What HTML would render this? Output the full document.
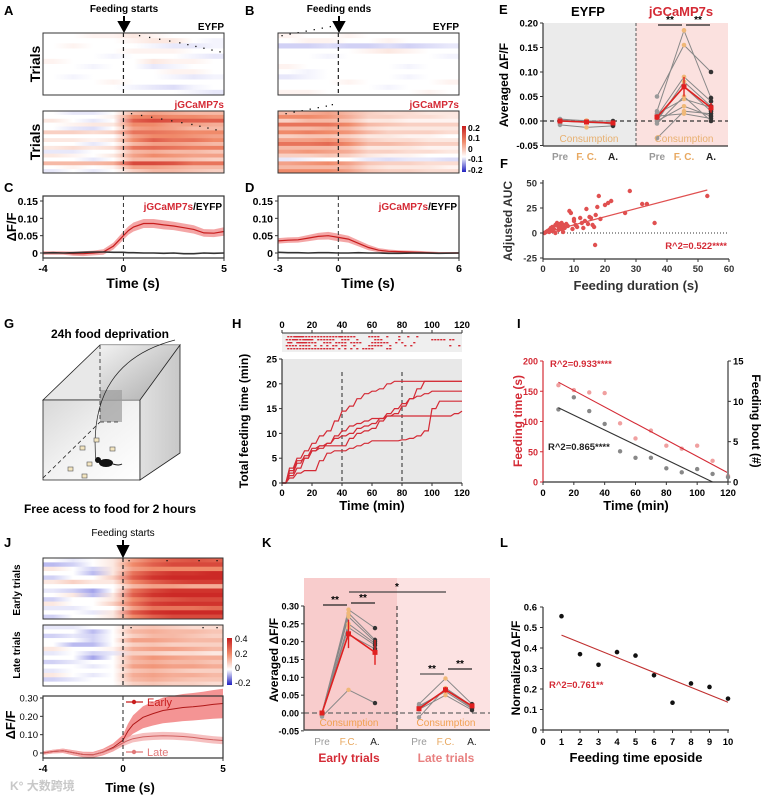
<!DOCTYPE html>
<html><head><meta charset="utf-8">
<style>
html,body{margin:0;padding:0;background:#fff;}
svg{display:block;font-family:"Liberation Sans","Noto Sans CJK SC",sans-serif;}
.b{font-weight:bold;}
</style></head>
<body>
<svg id="fig" width="762" height="796" viewBox="0 0 762 796" xmlns="http://www.w3.org/2000/svg">
<defs>
<linearGradient id="cbAB" x1="0" y1="1" x2="0" y2="0"><stop offset="0" stop-color="#2020c0"/><stop offset="0.33" stop-color="#ffffff"/><stop offset="0.66" stop-color="#f08a6a"/><stop offset="1" stop-color="#c81e1e"/></linearGradient>
<linearGradient id="cbJ" x1="0" y1="1" x2="0" y2="0"><stop offset="0" stop-color="#2020c0"/><stop offset="0.33" stop-color="#ffffff"/><stop offset="0.66" stop-color="#f08a6a"/><stop offset="1" stop-color="#c81e1e"/></linearGradient>
<linearGradient id="boxIn" x1="0" y1="0" x2="1" y2="1"><stop offset="0" stop-color="#f4f4f4"/><stop offset="0.6" stop-color="#bdbdbd"/><stop offset="1" stop-color="#9a9a9a"/></linearGradient>
<linearGradient id="boxSide" x1="0" y1="0" x2="1" y2="0"><stop offset="0" stop-color="#e0e0e0"/><stop offset="1" stop-color="#c8c8c8"/></linearGradient>
<linearGradient id="boxFront" x1="0" y1="0" x2="1" y2="1"><stop offset="0" stop-color="#d8d8d8"/><stop offset="0.5" stop-color="#f2f2f2"/><stop offset="1" stop-color="#ffffff"/></linearGradient>
</defs>
<g class="b" font-size="13">
<text x="4" y="15">A</text>
<text x="245" y="15">B</text>
<text x="499" y="14">E</text>
<text x="4" y="192">C</text>
<text x="245" y="192">D</text>
<text x="500" y="168">F</text>
<text x="4" y="328">G</text>
<text x="232" y="328">H</text>
<text x="517" y="328">I</text>
<text x="4" y="547">J</text>
<text x="262" y="547">K</text>
<text x="500" y="547">L</text>
</g>
<g class="b" font-size="10">
<text x="124" y="12" text-anchor="middle">Feeding starts</text>
<text x="339" y="12" text-anchor="middle">Feeding ends</text>
<text x="224" y="30" text-anchor="end">EYFP</text>
<text x="224" y="108" text-anchor="end" fill="#d42a35">jGCaMP7s</text>
<text x="459" y="30" text-anchor="end">EYFP</text>
<text x="459" y="108" text-anchor="end" fill="#d42a35">jGCaMP7s</text>
<text x="123" y="536" text-anchor="middle" font-weight="normal">Feeding starts</text>
</g>
<g class="b" font-size="14">
<text transform="translate(40,64) rotate(-90)" text-anchor="middle">Trials</text>
<text transform="translate(40,142) rotate(-90)" text-anchor="middle">Trials</text>
</g>
<path d="M124,16 V24 M119,22 L124,31 L129,22 Z" stroke="#000" stroke-width="2" fill="#000"/>
<path d="M339,16 V24 M334,22 L339,31 L344,22 Z" stroke="#000" stroke-width="2" fill="#000"/>
<path d="M123,540 V548 M118,546 L123,556 L128,546 Z" stroke="#000" stroke-width="2" fill="#000"/>
<g id="heatA1"></g>
<g id="heatA2"></g>
<g id="heatB1"></g>
<g id="heatB2"></g>
<rect x="462" y="126" width="4" height="46" fill="url(#cbAB)"/>
<g class="b" font-size="8.5">
<text x="468" y="131">0.2</text><text x="468" y="141">0.1</text><text x="468" y="152">0</text><text x="468" y="162">-0.1</text><text x="468" y="173">-0.2</text>
</g>
<g id="plotC"></g>
<g id="plotD"></g>
<text x="16" y="227" transform="rotate(-90 16 227)" text-anchor="middle" class="b" font-size="13">ΔF/F</text>
<text x="133" y="288" text-anchor="middle" class="b" font-size="14">Time (s)</text>
<text x="368" y="288" text-anchor="middle" class="b" font-size="14">Time (s)</text>
<g class="b" font-size="10">
<text x="222" y="210" text-anchor="end"><tspan fill="#d42a35">jGCaMP7s</tspan>/EYFP</text>
<text x="457" y="210" text-anchor="end"><tspan fill="#d42a35">jGCaMP7s</tspan>/EYFP</text>
</g>
<g id="plotE"></g>
<text x="588" y="16" text-anchor="middle" class="b" font-size="13">EYFP</text>
<text x="681" y="16" text-anchor="middle" class="b" font-size="13" fill="#d42a35">jGCaMP7s</text>
<text x="508" y="85" transform="rotate(-90 508 85)" text-anchor="middle" class="b" font-size="12">Averaged ΔF/F</text>
<g id="plotF"></g>
<text x="512" y="221" transform="rotate(-90 512 221)" text-anchor="middle" class="b" font-size="12" fill="#333">Adjusted AUC</text>
<text x="636" y="290" text-anchor="middle" class="b" font-size="13" fill="#333">Feeding duration (s)</text>
<text x="727" y="249" text-anchor="end" class="b" font-size="9.5" fill="#d42a35">R^2=0.522****</text>
<g>
<polygon points="43,400 100,345 180,345 140,400" fill="#e8e8e8" stroke="#222" stroke-width="0.8"/>
<polygon points="43,400 140,400 140,480 43,480" fill="url(#boxFront)" stroke="#222" stroke-width="0.8"/>
<polygon points="100,345 180,345 140,400 100,400" fill="url(#boxIn)" opacity="0.8"/>
<rect x="100" y="390" width="22" height="32" fill="#9c9c9c" opacity="0.7"/>
<polygon points="140,400 180,345 180,453 140,480" fill="url(#boxSide)" stroke="#222" stroke-width="0.8"/>
<path d="M100,345 V422 H120 M43,478 L100,422" stroke="#222" stroke-width="0.8" stroke-dasharray="4,3" fill="none"/>
<path d="M96,462 C92,420 98,360 175,340" stroke="#222" stroke-width="0.7" fill="none"/>
<ellipse cx="106" cy="463" rx="7" ry="4" fill="#111"/><circle cx="98" cy="460" r="3" fill="#111"/><path d="M113,464 q6,2 9,0" stroke="#111" fill="none"/>
<g fill="#f4e6c0" stroke="#555" stroke-width="0.6">
<rect x="94" y="438" width="5" height="4"/><rect x="80" y="446" width="5" height="4"/><rect x="110" y="447" width="5" height="4"/><rect x="87" y="462" width="5" height="4"/><rect x="68" y="467" width="5" height="4"/><rect x="82" y="474" width="5" height="4"/>
</g>
</g>
<text x="110" y="338" text-anchor="middle" class="b" font-size="12">24h food deprivation</text>
<text x="110" y="513" text-anchor="middle" class="b" font-size="12">Free acess to food for 2 hours</text>
<g id="plotH"></g>
<text x="248" y="421" transform="rotate(-90 248 421)" text-anchor="middle" class="b" font-size="12">Total feeding time (min)</text>
<text x="372" y="510" text-anchor="middle" class="b" font-size="13">Time (min)</text>
<g id="plotI"></g>
<text x="522" y="421" transform="rotate(-90 522 421)" text-anchor="middle" class="b" font-size="12" fill="#d42a35">Feeding time (s)</text>
<text x="752" y="421" transform="rotate(90 752 421)" text-anchor="middle" class="b" font-size="12">Feeding bout (#)</text>
<text x="636" y="510" text-anchor="middle" class="b" font-size="13">Time (min)</text>
<text x="550" y="367" class="b" font-size="9.5" fill="#d42a35">R^2=0.933****</text>
<text x="548" y="450" class="b" font-size="9.5" fill="#222">R^2=0.865****</text>
<g id="heatJ1"></g>
<g id="heatJ2"></g>
<rect x="227" y="638" width="5" height="47" fill="url(#cbJ)"/>
<g font-size="9">
<text x="235" y="642">0.4</text><text x="235" y="657">0.2</text><text x="235" y="671">0</text><text x="235" y="686">-0.2</text>
</g>
<text x="20" y="590" transform="rotate(-90 20 590)" text-anchor="middle" class="b" font-size="10">Early trials</text>
<text x="20" y="655" transform="rotate(-90 20 655)" text-anchor="middle" class="b" font-size="10">Late trials</text>
<g id="plotJ"></g>
<text x="15" y="725" transform="rotate(-90 15 725)" text-anchor="middle" class="b" font-size="13">ΔF/F</text>
<text x="130" y="792" text-anchor="middle" class="b" font-size="13">Time (s)</text>
<text x="10" y="790" font-size="12" fill="#c8c8c8" class="b">K° 大数跨境</text>
<g id="plotK"></g>
<text x="278" y="660" transform="rotate(-90 278 660)" text-anchor="middle" class="b" font-size="12">Averaged ΔF/F</text>
<text x="349" y="762" text-anchor="middle" class="b" font-size="12" fill="#d42a35">Early trials</text>
<text x="446" y="762" text-anchor="middle" class="b" font-size="12" fill="#e88080">Late trials</text>
<g id="plotL"></g>
<text x="520" y="668" transform="rotate(-90 520 668)" text-anchor="middle" class="b" font-size="12">Normalized ΔF/F</text>
<text x="636" y="762" text-anchor="middle" class="b" font-size="13">Feeding time eposide</text>
<text x="549" y="688" class="b" font-size="9.5" fill="#d42a35">R^2=0.761**</text>
</svg>
<script>
const heatA_eyfp=[[0,0,0.05,0.05,0.1,0.05,0,0,0],[0,0,0,0,0.05,0.1,0.1,0,-0.05],[0,0.05,0,0,0,-0.05,-0.1,-0.1,-0.05],[0,0,0,0,0.05,0.05,0.05,0,0],[0,0,0,-0.05,0,0,0,-0.05,-0.1],[0.05,0,0,0,0,0.1,0.05,0.05,0],[0,0,-0.05,0,0,-0.1,-0.05,0,0],[0,0,0,0,0,0,0.05,0.05,0],[0,-0.05,0,0,0,0,-0.05,-0.1,-0.05],[0,0,0,0.05,0,0,0,0,0],[0,0,0,0,-0.05,-0.1,-0.15,-0.05,0],[0,0,0,0,0,0,0,-0.05,-0.1]];
const heatA_jg=[[0,-0.1,-0.1,0,0.3,0.4,0.35,0.3,0.3],[0,0,0,0.05,0.5,0.55,0.5,0.5,0.45],[0.1,0,-0.1,0,0.7,0.8,0.75,0.7,0.7],[0,0.05,0.1,0.1,0.5,0.5,0.4,0.4,0.35],[0,-0.1,-0.15,0,0.4,0.45,0.4,0.3,0.3],[0.2,0.2,0.15,0.2,0.6,0.6,0.55,0.5,0.5],[0,0,0,0,0.4,0.5,0.5,0.45,0.4],[0.1,0.1,0.05,0.1,0.5,0.7,0.6,0.6,0.5],[0,0,-0.1,0,0.3,0.4,0.4,0.35,0.3],[0.1,0.15,0.1,0.15,0.6,0.65,0.6,0.55,0.55],[-0.1,-0.1,0,0,0.3,0.35,0.3,0.3,0.25],[0.1,0.05,0,0.1,0.4,0.5,0.45,0.4,0.4],[0,0,-0.1,0,0.3,0.3,0.3,0.25,0.2],[0.3,0.3,0.3,0.35,0.8,0.8,0.75,0.6,0.6],[0,0.05,0,0.05,0.4,0.4,0.35,0.3,0.3],[-0.1,0,-0.1,0,0.2,0.3,0.3,0.25,0.2]];
const heatB_eyfp=[[0.05,0,0,0.05,0,0,0,0,0],[0,0.05,0.05,0,0,0.05,0,0,0],[-0.2,-0.2,-0.15,-0.2,-0.2,-0.15,-0.2,-0.15,-0.1],[0,0,0,0,0.05,0.1,0.05,0,0],[0,0,-0.05,0,0,0,0,0,-0.05],[0,0,0,0,0,0,0,0,0],[0.05,0,0,0,0,0,-0.05,0,0],[0,-0.05,0,0,0,0,0,0,0],[-0.1,-0.05,0,0,0,0,-0.05,0,0],[0,0,0,0.05,0,0,0,0,0.05],[0,0,0,0,0,-0.05,0,0,0],[0.05,0.05,0,0,0,0,0,0.05,0]];
const heatB_jg=[[0.3,0.35,0.4,0.3,0.2,0.15,0.15,0.1,0.1],[0.5,0.5,0.45,0.35,0.2,0.2,0.15,0.15,0.1],[0.2,0.3,0.3,0.25,0.1,0.1,0.05,0.05,0.05],[0.6,0.6,0.6,0.5,0.3,0.25,0.2,0.2,0.2],[0.3,0.3,0.35,0.3,0.15,0.1,0.1,0.1,0.1],[0.5,0.55,0.5,0.45,0.3,0.2,0.2,0.2,0.15],[0.2,0.25,0.25,0.2,0.1,0.1,0.05,0.05,0],[0.4,0.4,0.45,0.35,0.2,0.15,0.15,0.1,0.1],[0.6,0.6,0.65,0.5,0.3,0.3,0.25,0.2,0.2],[0.3,0.3,0.3,0.25,0.1,0.1,0.1,0.05,0.05],[0.4,0.45,0.4,0.35,0.2,0.2,0.15,0.15,0.1],[0.2,0.2,0.25,0.2,0.1,0.05,0.05,0,0],[-0.1,-0.05,0,0,-0.1,-0.15,-0.1,-0.1,-0.15],[0.4,0.45,0.5,0.4,0.25,0.2,0.2,0.15,0.15],[0.3,0.3,0.3,0.3,0.15,0.1,0.1,0.1,0.05],[0.5,0.5,0.5,0.4,0.25,0.2,0.2,0.15,0.15]];
const heatJ_early=[[0,-0.1,0,0.1,0.4,0.6,0.7,0.75,0.7],[-0.3,-0.2,0,0.1,0.5,0.7,0.8,0.8,0.8],[0.1,0,-0.2,0.1,0.4,0.5,0.5,0.5,0.5],[0,0,-0.3,0.1,0.6,0.8,0.9,0.9,0.95],[-0.2,0,0,0.2,0.7,0.9,0.95,0.95,0.95],[0.1,0.2,0.1,0.1,0.5,0.7,0.8,0.85,0.85],[0,0,0,0,0.3,0.4,0.4,0.35,0.35],[-0.1,-0.2,-0.4,0,0.6,0.8,0.9,0.9,0.9],[0,0.1,-0.3,0.1,0.7,0.9,0.95,0.95,0.95],[-0.2,0,0,0.1,0.5,0.7,0.75,0.8,0.8],[0.1,0,0,0.2,0.6,0.85,0.9,0.9,0.9],[-0.1,-0.1,0,0,0.4,0.6,0.6,0.6,0.65],[0,0,-0.1,0.1,0.7,0.9,0.95,0.95,0.95],[-0.2,0,0,0.1,0.5,0.7,0.8,0.8,0.8]];
const heatJ_late=[[-0.1,-0.1,0,0,0.2,0.25,0.2,0.15,0.15],[0,0,-0.3,0,0.3,0.35,0.3,0.3,0.25],[-0.2,-0.1,-0.2,0,0.2,0.3,0.3,0.25,0.2],[0,0,-0.2,0,0.4,0.4,0.35,0.3,0.3],[0,-0.3,-0.3,0,0.2,0.25,0.2,0.2,0.2],[0.1,0,0,0.05,0.35,0.4,0.4,0.35,0.3],[-0.1,0,-0.2,-0.1,0.2,0.2,0.15,0.15,0.1],[0,0,-0.4,0,0.35,0.45,0.4,0.35,0.35],[-0.2,-0.1,0,0,0.3,0.35,0.3,0.3,0.25],[0,0,-0.1,0,0.4,0.45,0.4,0.4,0.35],[-0.1,0,0,0,0.25,0.3,0.25,0.2,0.2],[0.1,0,-0.1,0,0.35,0.4,0.35,0.35,0.3],[-0.2,-0.1,0,0,0.3,0.35,0.3,0.25,0.25],[0,0,0,0,0.2,0.25,0.2,0.2,0.15]];
const endDotsA1=[0.8,1.3,1.8,2.3,2.8,3.2,3.6,4.0,4.4,4.8];
const endDotsA2=[0.4,0.9,1.4,1.9,2.4,2.9,3.4,3.8,4.2,4.6];
const endDotsB1=[-2.8,-2.4,-2.0,-1.6,-1.2,-0.8,-0.4];
const endDotsB2=[-2.6,-2.2,-1.8,-1.4,-1.0,-0.6,-0.3];
const dotsJ1=[0.3,2.2,3.8,4.7];
const dotsJ2=[0.4,4.0,4.7];
const tC=[-4,-3.5,-3,-2.5,-2,-1.5,-1,-0.5,0,0.25,0.5,1,1.5,2,2.5,3,3.5,4,4.5,5];
const meanC=[0,0,0,-0.002,-0.002,0,0.003,0.02,0.05,0.065,0.075,0.085,0.085,0.081,0.078,0.073,0.068,0.058,0.057,0.062];
const semC=[0.005,0.005,0.005,0.006,0.007,0.007,0.008,0.01,0.012,0.012,0.013,0.013,0.013,0.013,0.012,0.012,0.012,0.011,0.011,0.012];
const eyfpC=[0,0.001,0,0.001,0.002,0.003,0.003,0.002,0.002,0.001,0.001,0,0,-0.001,0,-0.002,-0.002,0,-0.001,0];
const tD=[-3,-2.5,-2,-1.5,-1,-0.5,0,0.5,1,1.5,2,2.5,3,4,5,6];
const meanD=[0.035,0.037,0.038,0.043,0.048,0.05,0.045,0.04,0.028,0.016,0.008,0.005,0.004,0.002,0,0];
const semD=[0.008,0.008,0.008,0.009,0.01,0.011,0.011,0.01,0.009,0.008,0.006,0.005,0.004,0.004,0.003,0.003];
const eyfpD=[0.002,0.001,0.001,0,0.001,0.001,0,0,0.001,0,0,-0.001,-0.001,0,-0.001,0];
const catsE=['Pre','F. C.','A.'];
const eEyfpLines=[[-0.008,-0.013,-0.01],[0.004,0,0],[0,-0.003,-0.005],[0.002,0.001,-0.007]];
const eEyfpMean=[0,-0.002,-0.004];
const eJgLines=[[0.05,0.155,0.1],[0.02,0.185,0.047],[0.01,0.09,0.04],[0,0.08,0.03],[0.005,0.07,0.02],[0.015,0.045,0.028],[-0.035,0.02,0.015],[0,0.03,0.01],[0.01,0.015,0.005],[-0.005,0.05,0]];
const eJgMean=[0.008,0.07,0.027];
const eJgErr=[0.006,0.02,0.01];
const fX=[0.5,1,1.5,2,2,2.5,3,3,3.5,4,4,4.5,5,5,5.5,5.5,6,6,6.5,6.5,7,7.5,8,8.5,9,9.5,10,10,10.5,11,12,12.5,13,13.5,14,14.5,15,15.5,16,16.5,16.8,17,17.5,18,18.5,20,21,22,26.5,28,32,33.5,36,53];
const fY=[0,1,2,3,1,5,2,6,4,8,0,10,6,3,9,7,4,10,8,1,5,9,7,22,20,4,12,14,8,6,15,10,5,12,24,9,16,15,8,6,-12,18,26,37,14,28,30,32,20,42,29,29,10,37];
const fFitX=[0,53];
const fFitY=[0,43];
const hT=[0,5,10,15,20,25,30,35,40,45,50,55,60,65,70,75,80,85,90,95,100,105,110,115,120];
const hCurves=[
[0,3,5,6.5,8,9.5,10.5,12.5,14.5,15.5,17,18,18.5,19,20,20.5,20.5,20.5,20.5,20.5,20.5,20.5,20.5,20.5,20.5],
[0,2,4,5.5,7,7.5,7.5,7.5,7.5,9,10,10.5,11,12.5,13.5,14,15.5,17,19,20.5,20.5,20.5,20.5,20.5,20.5],
[0,1.5,3,5,6.5,7.5,8,9.5,10.5,11.5,12,12.5,13,13,13.5,13.5,13.5,13.5,13.5,13.5,13.5,13.5,13.5,14,14.5],
[0,2.5,4.5,5,6.5,7,8,9,9.5,10,11,11.5,12,13,14,15,16,17,17.5,18,18.5,18.5,18.5,18.5,18.5],
[0,1,2,2.5,2.5,4.5,6,6.5,6.5,7,7.5,8,8.5,8.5,8.5,8.5,8.7,9,9.5,10.5,15,16.5,16.5,16.5,16.5]];
const hRaster=[
[4,6,8,9,10,11,12,13,14,16,18,20,22,24,26,28,30,32,34,36,38,39,40,42,44,46,48,58,60,62,64,70,78,84,90],
[3,5,7,8,9,10,12,14,15,16,17,18,19,20,24,26,28,30,32,34,40,42,44,50,62,64,66,78,100,102,104,106,108,112,114],
[4,5,6,10,11,12,13,14,15,16,18,20,22,28,30,32,36,38,40,42,46,48,50,52,60,62,64,66,68,70,76,80,88],
[3,5,7,9,12,14,16,18,22,26,30,34,36,40,42,48,58,60,62,64,66,72,82,86,112,118],
[4,6,8,10,12,14,16,18,20,22,24,26,28,30,32,34,38,42,46,50,54,56,58,60,70,72]];
const iT=[10,20,30,40,50,60,70,80,90,100,110,120];
const iFeedTime=[160,152,148,147,97,72,85,60,55,60,35,10];
const iBouts=[9,10.5,8.8,7.2,3.8,3,3,1.7,1.2,1.6,1,0.6];
const iFitRedX=[10,120], iFitRedY=[165,15];
const iFitBlkX=[10,110], iFitBlkY=[9.2,0];
const tJ=[-4,-3.5,-3,-2.5,-2,-1.5,-1,-0.5,0,0.25,0.5,1,1.5,2,2.5,3,3.5,4,4.5,5];
const earlyJ=[0,0.008,0.012,0.002,-0.008,-0.01,0.005,0.03,0.07,0.12,0.155,0.195,0.215,0.232,0.24,0.248,0.252,0.258,0.265,0.27];
const earlySemJ=[0.01,0.01,0.012,0.014,0.015,0.016,0.018,0.022,0.03,0.04,0.05,0.06,0.065,0.07,0.072,0.074,0.075,0.076,0.078,0.08];
const lateJ=[0,0.008,0.012,0.002,-0.008,-0.01,0.005,0.025,0.055,0.068,0.078,0.088,0.092,0.094,0.093,0.09,0.085,0.078,0.072,0.068];
const lateSemJ=[0.01,0.01,0.012,0.012,0.012,0.012,0.014,0.016,0.018,0.02,0.02,0.021,0.021,0.021,0.021,0.021,0.02,0.02,0.02,0.02];
const kEarlyLines=[[0,0.29,0.238],[0,0.28,0.205],[0,0.27,0.2],[0,0.25,0.195],[0,0.24,0.19],[-0.01,0.065,0.028],[0,0.22,0.18]];
const kEarlyMean=[0,0.222,0.17], kEarlyErr=[0.003,0.04,0.035];
const kLateLines=[[0.025,0.097,0.025],[-0.012,0.07,0.02],[0.02,0.06,0.012],[0.01,0.05,0.008],[0.015,0.065,0.015]];
const kLateMean=[0.012,0.065,0.02], kLateErr=[0.005,0.008,0.005];
const lX=[1,2,3,4,5,6,7,8,9,10];
const lY=[0.555,0.37,0.318,0.38,0.363,0.267,0.133,0.227,0.21,0.153];
const lFitX=[1,10], lFitY=[0.463,0.135];
const ticksCy=[0,0.05,0.10,0.15], ticksCyL=['0','0.05','0.10','0.15'];
const ticksEy=[-0.05,0,0.05,0.1,0.15,0.2], ticksEyL=['-0.05','0.00','0.05','0.10','0.15','0.20'];
const ticksFx=[0,10,20,30,40,50,60], ticksFy=[-25,0,25,50];
const ticksH=[0,20,40,60,80,100,120], ticksHy=[0,5,10,15,20,25];
const ticksIL=[0,50,100,150,200], ticksIR=[0,5,10,15];
const ticksJy=[0,0.1,0.2,0.3], ticksJyL=['0','0.10','0.20','0.30'];
const ticksKy=[-0.05,0,0.05,0.1,0.15,0.2,0.25,0.3], ticksKyL=['-0.05','0.00','0.05','0.10','0.15','0.20','0.25','0.30'];
const ticksLx=[0,1,2,3,4,5,6,7,8,9,10], ticksLy=[0,0.1,0.2,0.3,0.4,0.5,0.6];

const NS='http://www.w3.org/2000/svg';
const svg=document.getElementById('fig');
const defs=svg.querySelector('defs');
function mk(parent,tag,attrs,name){
  const el=document.createElementNS(NS,tag);
  for(const k in attrs) el.setAttribute(k,attrs[k]);
  
  
  parent.appendChild(el);return el;
}
function txt(parent,x,y,s,anchor,name,extra){
  const el=mk(parent,'text',Object.assign({x:x,y:y,'text-anchor':anchor||'middle','font-size':10,'font-weight':'bold'},extra||{}),name);
  el.textContent=s;return el;
}
const sc=(d0,d1,r0,r1)=>v=>r0+(v-d0)*(r1-r0)/(d1-d0);
function lerp(a,b,t){return a.map((v,i)=>Math.round(v+(b[i]-v)*t));}
function cmap(v){
  v=Math.max(-1,Math.min(1,v));
  const W=[255,255,255],R1=[240,138,106],R2=[200,30,30],B1=[140,140,230],B2=[32,32,192];
  let c;
  if(v>=0) c=v<0.5?lerp(W,R1,v/0.5):lerp(R1,R2,(v-0.5)/0.5);
  else c=-v<0.5?lerp(W,B1,-v/0.5):lerp(B1,B2,(-v-0.5)/0.5);
  return 'rgb('+c.join(',')+')';
}
let gid=0;
function heat(gId,rows,x0,x1,y0,y1,t0,t1,dots,dotRowStep){
  const g=document.getElementById(gId);
  const rh=(y1-y0)/rows.length, nb=rows[0].length;
  rows.forEach((r,ri)=>{
    const id='hg'+(gid++);
    const lg=mk(defs,'linearGradient',{id:id,x1:0,x2:1,y1:0,y2:0},'heat-row-gradient');
    r.forEach((v,bi)=>{mk(lg,'stop',{offset:((bi+0.5)/nb).toFixed(3),'stop-color':cmap(v)},'gradient-stop');});
    mk(g,'rect',{x:x0,y:(y0+ri*rh).toFixed(2),width:x1-x0,height:(rh+0.3).toFixed(2),fill:'url(#'+id+')'},'heat-row');
  });
  const xs=sc(t0,t1,x0,x1);
  mk(g,'line',{x1:xs(0),x2:xs(0),y1:y0,y2:y1,stroke:'#222','stroke-width':1.2,'stroke-dasharray':'4,3'},'onset-line');
  (dots||[]).forEach((t,i)=>{mk(g,'rect',{x:xs(t)-0.6,y:y0+2+i*dotRowStep,width:1.3,height:1.3,fill:'#111'},'event-dot');});
  mk(g,'rect',{x:x0,y:y0,width:x1-x0,height:y1-y0,fill:'none',stroke:'#333','stroke-width':1},'heatmap-frame');
}
function pathOf(xs,ys,X,Y){return xs.map((x,i)=>(i?'L':'M')+X(x).toFixed(1)+','+Y(ys[i]).toFixed(1)).join(' ');}
function band(xs,m,s,X,Y){
  let d=xs.map((x,i)=>(i?'L':'M')+X(x).toFixed(1)+','+Y(m[i]+s[i]).toFixed(1)).join(' ');
  for(let i=xs.length-1;i>=0;i--) d+=' L'+X(xs[i]).toFixed(1)+','+Y(m[i]-s[i]).toFixed(1);
  return d+' Z';
}

heat('heatA1',heatA_eyfp,43,224,33,95,-4,5,endDotsA1,1.8);
heat('heatA2',heatA_jg,43,224,111,173,-4,5,endDotsA2,1.8);
heat('heatB1',heatB_eyfp,278,459,33,95,-3,6,endDotsB1,-1.5);
heat('heatB2',heatB_jg,278,459,111,173,-3,6,endDotsB2,-1.5);
heat('heatJ1',heatJ_early,43,223,558,619,-4,5,dotsJ1,0);
heat('heatJ2',heatJ_late,43,223,625,686,-4,5,dotsJ2,0);

function traceplot(gId,x0,x1,t0,t1,ts,m,s,ey,xt){
  const g=document.getElementById(gId);
  const X=sc(t0,t1,x0,x1), Y=sc(0,0.15,253,201);
  mk(g,'path',{d:band(ts,m,s,X,Y),fill:'#f08080',opacity:0.7},'signal-band');
  mk(g,'path',{d:pathOf(ts,m,X,Y),fill:'none',stroke:'#c81e1e','stroke-width':1.2},'signal-mean-line');
  mk(g,'path',{d:pathOf(ts,ey,X,Y),fill:'none',stroke:'#333','stroke-width':1.6},'eyfp-line');
  mk(g,'line',{x1:X(0),x2:X(0),y1:196,y2:258,stroke:'#333','stroke-dasharray':'4,3'},'onset-line');
  mk(g,'rect',{x:x0,y:196,width:x1-x0,height:62,fill:'none',stroke:'#333','stroke-width':1.2},'plot-frame');
  ticksCy.forEach((v,i)=>{mk(g,'line',{x1:x0-3,x2:x0,y1:Y(v),y2:Y(v),stroke:'#333'},'y-tick');txt(g,x0-5,Y(v)+4,ticksCyL[i],'end','y-tick-label',{'font-size':10.5});});
  xt.forEach(v=>{mk(g,'line',{x1:X(v),x2:X(v),y1:258,y2:261,stroke:'#333'},'x-tick');txt(g,X(v),272,String(v),'middle','x-tick-label',{'font-size':10.5});});
}
traceplot('plotC',43,224,-4,5,tC,meanC,semC,eyfpC,[-4,0,5]);
traceplot('plotD',278,459,-3,6,tD,meanD,semD,eyfpD,[-3,0,6]);

(function(){
  const g=document.getElementById('plotE');
  const Y=sc(0,0.2,121,23);
  mk(g,'rect',{x:543,y:23,width:93,height:123,fill:'#ebebeb'},'eyfp-background');
  mk(g,'rect',{x:636,y:23,width:92,height:123,fill:'#fbe1df'},'jgcamp-background');
  mk(g,'line',{x1:636,x2:636,y1:23,y2:146,stroke:'#555','stroke-dasharray':'3,2'},'group-divider');
  mk(g,'line',{x1:543,x2:728,y1:Y(0),y2:Y(0),stroke:'#333','stroke-width':1.2,'stroke-dasharray':'4,3'},'zero-line');
  const xl=i=>560+i*26.5, xr=i=>657+i*27;
  const ptCol=['#999','#f0b878','#333'];
  function lines(arr,X,col){arr.forEach(r=>{mk(g,'path',{d:r.map((v,i)=>(i?'L':'M')+X(i)+','+Y(v).toFixed(1)).join(' '),stroke:col,fill:'none','stroke-width':1},'subject-line');r.forEach((v,i)=>mk(g,'circle',{cx:X(i),cy:Y(v),r:2.3,fill:ptCol[i]},'subject-point'));});}
  lines(eEyfpLines,xl,'#888');lines(eJgLines,xr,'#888');
  function mean(mv,X,err){
    mk(g,'path',{d:mv.map((v,i)=>(i?'L':'M')+X(i)+','+Y(v).toFixed(1)).join(' '),stroke:'#e02020',fill:'none','stroke-width':1.6},'mean-line');
    mv.forEach((v,i)=>{if(err)mk(g,'line',{x1:X(i),x2:X(i),y1:Y(v-err[i]),y2:Y(v+err[i]),stroke:'#e02020','stroke-width':1.4},'error-bar');mk(g,'rect',{x:X(i)-2.5,y:Y(v)-2.5,width:5,height:5,fill:'#e02020'},'mean-point');});
  }
  mean(eEyfpMean,xl,null);mean(eJgMean,xr,eJgErr);
  mk(g,'line',{x1:543,x2:543,y1:23,y2:146,stroke:'#333','stroke-width':1.2},'y-axis');
  mk(g,'line',{x1:543,x2:728,y1:146,y2:146,stroke:'#333','stroke-width':1.2},'x-axis');
  ticksEy.forEach((v,i)=>{mk(g,'line',{x1:540,x2:543,y1:Y(v),y2:Y(v),stroke:'#333'},'y-tick');txt(g,538,Y(v)+3.5,ticksEyL[i],'end','y-tick-label',{'font-size':9.5});});
  const cc=['#999','#e8a860','#222'];
  catsE.forEach((c,i)=>{txt(g,xl(i),160,c,'middle','x-category-label',{fill:cc[i],'font-size':10});txt(g,xr(i),160,c,'middle','x-category-label',{fill:cc[i],'font-size':10});});
  txt(g,589,142,'Consumption','middle','consumption-label',{fill:'#e8b070','font-size':10,'font-weight':'normal'});
  txt(g,684,142,'Consumption','middle','consumption-label',{fill:'#e8b070','font-size':10,'font-weight':'normal'});
  mk(g,'line',{x1:658,x2:682,y1:25,y2:25,stroke:'#222','stroke-width':1.3},'sig-bar');
  mk(g,'line',{x1:686,x2:710,y1:25,y2:25,stroke:'#222','stroke-width':1.3},'sig-bar');
  txt(g,670,23,'**','middle','sig-stars');txt(g,698,23,'**','middle','sig-stars');
})();

(function(){
  const g=document.getElementById('plotF');
  const X=sc(0,60,543,729),Y=sc(0,50,233,183);
  mk(g,'line',{x1:543,x2:729,y1:Y(0),y2:Y(0),stroke:'#333','stroke-dasharray':'1,2'},'zero-line');
  fX.forEach((x,i)=>mk(g,'circle',{cx:X(x).toFixed(1),cy:Y(fY[i]).toFixed(1),r:2.2,fill:'#e05050'},'scatter-point'));
  mk(g,'path',{d:pathOf(fFitX,fFitY,X,Y),stroke:'#e05050','stroke-width':1.2,fill:'none'},'fit-line');
  mk(g,'line',{x1:543,x2:543,y1:180,y2:259,stroke:'#333','stroke-width':1.2},'y-axis');
  mk(g,'line',{x1:543,x2:729,y1:259,y2:259,stroke:'#333','stroke-width':1.2},'x-axis');
  ticksFy.forEach(v=>{mk(g,'line',{x1:540,x2:543,y1:Y(v),y2:Y(v),stroke:'#333'},'y-tick');txt(g,537,Y(v)+3.5,String(v),'end','y-tick-label',{'font-size':9.5,fill:'#333'});});
  ticksFx.forEach(v=>{mk(g,'line',{x1:X(v),x2:X(v),y1:259,y2:262,stroke:'#333'},'x-tick');txt(g,X(v),272,String(v),'middle','x-tick-label',{'font-size':9.5,fill:'#333'});});
})();

(function(){
  const g=document.getElementById('plotH');
  const X=sc(0,120,282,462),Y=sc(0,25,483,359);
  mk(g,'rect',{x:282,y:333,width:180,height:19,fill:'#efefef'},'raster-background');
  hRaster.forEach((row,ri)=>row.forEach(t=>mk(g,'rect',{x:X(t)-0.8,y:336+ri*3,width:2.2,height:1.4,fill:'#d42a35'},'raster-mark')));
  mk(g,'line',{x1:282,x2:462,y1:333,y2:333,stroke:'#333'},'raster-axis');
  ticksH.forEach(v=>{mk(g,'line',{x1:X(v),x2:X(v),y1:330,y2:333,stroke:'#333'},'raster-tick');txt(g,X(v),328,String(v),'middle','raster-tick-label',{'font-size':9.5});});
  mk(g,'rect',{x:282,y:359,width:180,height:124,fill:'#e8e8e8'},'plot-background');
  [40,80].forEach(v=>mk(g,'line',{x1:X(v),x2:X(v),y1:372,y2:483,stroke:'#555','stroke-width':1.3,'stroke-dasharray':'4,3'},'period-divider'));
  hCurves.forEach(c=>{
    let d='';hT.forEach((t,i)=>{d+=(i?'L':'M')+X(t).toFixed(1)+','+Y(c[i]).toFixed(1)+' ';if(i<hT.length-1)d+='L'+X(t+2.5).toFixed(1)+','+Y(c[i]).toFixed(1)+' ';});
    mk(g,'path',{d:d,stroke:'#d42a35','stroke-width':1.2,fill:'none'},'cumulative-line');
  });
  mk(g,'line',{x1:282,x2:282,y1:359,y2:483,stroke:'#333','stroke-width':1.2},'y-axis');
  mk(g,'line',{x1:282,x2:462,y1:483,y2:483,stroke:'#333','stroke-width':1.2},'x-axis');
  ticksHy.forEach(v=>{mk(g,'line',{x1:279,x2:282,y1:Y(v),y2:Y(v),stroke:'#333'},'y-tick');txt(g,277,Y(v)+3.5,String(v),'end','y-tick-label',{'font-size':9.5});});
  ticksH.forEach(v=>{mk(g,'line',{x1:X(v),x2:X(v),y1:483,y2:486,stroke:'#333'},'x-tick');txt(g,X(v),496,String(v),'middle','x-tick-label',{'font-size':9.5});});
})();

(function(){
  const g=document.getElementById('plotI');
  const X=sc(0,120,543,728),YL=sc(0,200,482,361),YR=sc(0,15,482,361);
  iT.forEach((t,i)=>{mk(g,'circle',{cx:X(t),cy:YL(iFeedTime[i]),r:2.2,fill:'#f0a0a0'},'feeding-time-point');mk(g,'circle',{cx:X(t),cy:YR(iBouts[i]),r:2.2,fill:'#888'},'feeding-bout-point');});
  mk(g,'path',{d:pathOf(iFitRedX,iFitRedY,X,YL),stroke:'#d42a35','stroke-width':1.1,fill:'none'},'feeding-time-fit');
  mk(g,'path',{d:pathOf(iFitBlkX,iFitBlkY,X,YR),stroke:'#333','stroke-width':1.1,fill:'none'},'feeding-bout-fit');
  mk(g,'line',{x1:543,x2:543,y1:361,y2:482,stroke:'#d42a35','stroke-width':1.2},'left-y-axis');
  mk(g,'line',{x1:728,x2:728,y1:361,y2:482,stroke:'#888','stroke-width':2},'right-y-axis');
  mk(g,'line',{x1:543,x2:728,y1:482,y2:482,stroke:'#333','stroke-width':1.2},'x-axis');
  ticksIL.forEach(v=>{mk(g,'line',{x1:540,x2:543,y1:YL(v),y2:YL(v),stroke:'#d42a35'},'left-y-tick');txt(g,538,YL(v)+3.5,String(v),'end','left-y-tick-label',{'font-size':9,fill:'#d42a35'});});
  ticksIR.forEach(v=>{mk(g,'line',{x1:728,x2:731,y1:YR(v),y2:YR(v),stroke:'#333'},'right-y-tick');txt(g,733,YR(v)+3.5,String(v),'start','right-y-tick-label',{'font-size':9.5});});
  ticksH.forEach(v=>{mk(g,'line',{x1:X(v),x2:X(v),y1:482,y2:485,stroke:'#333'},'x-tick');txt(g,X(v),496,String(v),'middle','x-tick-label',{'font-size':9.5});});
})();

(function(){
  const g=document.getElementById('plotJ');
  const X=sc(-4,5,43,223),Y=sc(0,0.3,753,698);
  mk(g,'path',{d:band(tJ,earlyJ,earlySemJ,X,Y),fill:'#f07070',opacity:0.75},'early-band');
  mk(g,'path',{d:band(tJ,lateJ,lateSemJ,X,Y),fill:'#f4b0b0',opacity:0.8},'late-band');
  mk(g,'path',{d:pathOf(tJ,earlyJ,X,Y),fill:'none',stroke:'#b01818','stroke-width':1},'early-mean-line');
  mk(g,'path',{d:pathOf(tJ,lateJ,X,Y),fill:'none',stroke:'#d06060','stroke-width':1},'late-mean-line');
  mk(g,'line',{x1:X(0),x2:X(0),y1:696,y2:758,stroke:'#222','stroke-dasharray':'4,3'},'onset-line');
  mk(g,'rect',{x:43,y:696,width:180,height:62,fill:'none',stroke:'#333','stroke-width':1.2},'plot-frame');
  ticksJy.forEach((v,i)=>{mk(g,'line',{x1:40,x2:43,y1:Y(v),y2:Y(v),stroke:'#333'},'y-tick');txt(g,38,Y(v)+3.5,ticksJyL[i],'end','y-tick-label',{'font-size':9.5,'font-weight':'normal'});});
  [-4,0,5].forEach(v=>{mk(g,'line',{x1:X(v),x2:X(v),y1:758,y2:761,stroke:'#333'},'x-tick');txt(g,X(v),772,String(v),'middle','x-tick-label',{'font-size':10});});
  mk(g,'line',{x1:126,x2:143,y1:702,y2:702,stroke:'#c81e1e','stroke-width':1.3},'legend-early-line');
  mk(g,'circle',{cx:134,cy:702,r:2.2,fill:'#c81e1e'},'legend-early-marker');
  txt(g,147,706,'Early','start','legend-early-label',{fill:'#c81e1e','font-weight':'normal','font-size':11});
  mk(g,'line',{x1:126,x2:143,y1:752,y2:752,stroke:'#e07878','stroke-width':1.3},'legend-late-line');
  mk(g,'circle',{cx:134,cy:752,r:2.2,fill:'#e07878'},'legend-late-marker');
  txt(g,147,756,'Late','start','legend-late-label',{fill:'#e07878','font-weight':'normal','font-size':11});
})();

(function(){
  const g=document.getElementById('plotK');
  const Y=sc(0,0.3,713,606);
  mk(g,'rect',{x:304,y:578,width:93,height:152,fill:'#f8cccc'},'early-background');
  mk(g,'rect',{x:397,y:578,width:93,height:152,fill:'#fce2e2'},'late-background');
  mk(g,'line',{x1:397,x2:397,y1:606,y2:730,stroke:'#222','stroke-dasharray':'4,3'},'group-divider');
  mk(g,'line',{x1:304,x2:490,y1:Y(0),y2:Y(0),stroke:'#666','stroke-width':1.3,'stroke-dasharray':'5,3'},'zero-line');
  const xe=i=>322+i*26.5, xla=i=>419+i*26.5;
  const ptCol=['#999','#f0b878','#333'];
  function lines(arr,X){arr.forEach(r=>{mk(g,'path',{d:r.map((v,i)=>(i?'L':'M')+X(i)+','+Y(v).toFixed(1)).join(' '),stroke:'#888',fill:'none','stroke-width':1},'subject-line');r.forEach((v,i)=>mk(g,'circle',{cx:X(i),cy:Y(v),r:2.2,fill:ptCol[i]},'subject-point'));});}
  lines(kEarlyLines,xe);lines(kLateLines,xla);
  function mean(mv,er,X){
    mk(g,'path',{d:mv.map((v,i)=>(i?'L':'M')+X(i)+','+Y(v).toFixed(1)).join(' '),stroke:'#e02020',fill:'none','stroke-width':1.6},'mean-line');
    mv.forEach((v,i)=>{mk(g,'line',{x1:X(i),x2:X(i),y1:Y(v-er[i]),y2:Y(v+er[i]),stroke:'#e02020','stroke-width':1.4},'error-bar');mk(g,'rect',{x:X(i)-2.5,y:Y(v)-2.5,width:5,height:5,fill:'#e02020'},'mean-point');});
  }
  mean(kEarlyMean,kEarlyErr,xe);mean(kLateMean,kLateErr,xla);
  mk(g,'line',{x1:304,x2:304,y1:606,y2:730,stroke:'#333','stroke-width':1.2},'y-axis');
  mk(g,'line',{x1:304,x2:490,y1:730,y2:730,stroke:'#333','stroke-width':1.2},'x-axis');
  ticksKy.forEach((v,i)=>{mk(g,'line',{x1:301,x2:304,y1:Y(v),y2:Y(v),stroke:'#333'},'y-tick');txt(g,299,Y(v)+3.5,ticksKyL[i],'end','y-tick-label',{'font-size':9});});
  const cats=['Pre','F.C.','A.'],cc=['#999','#e8a860','#222'];
  cats.forEach((c,i)=>{txt(g,xe(i),745,c,'middle','x-category-label',{fill:cc[i],'font-size':10,'font-weight':'normal'});txt(g,xla(i),745,c,'middle','x-category-label',{fill:cc[i],'font-size':10,'font-weight':'normal'});});
  txt(g,349,726,'Consumption','middle','consumption-label',{fill:'#f0a050','font-size':10,'font-weight':'normal'});
  txt(g,446,726,'Consumption','middle','consumption-label',{fill:'#f0a050','font-size':10,'font-weight':'normal'});
  mk(g,'line',{x1:323,x2:347,y1:605,y2:605,stroke:'#222','stroke-width':1.3},'sig-bar');
  mk(g,'line',{x1:351,x2:375,y1:603,y2:603,stroke:'#222','stroke-width':1.3},'sig-bar');
  txt(g,335,603,'**','middle','sig-stars');txt(g,363,601,'**','middle','sig-stars');
  mk(g,'line',{x1:349,x2:446,y1:592,y2:592,stroke:'#444','stroke-width':1.3},'sig-bar-between');
  txt(g,397,590,'*','middle','sig-star');
  mk(g,'line',{x1:420,x2:444,y1:674,y2:674,stroke:'#555','stroke-width':1.3},'sig-bar');
  mk(g,'line',{x1:448,x2:472,y1:669,y2:669,stroke:'#222','stroke-width':1.3},'sig-bar');
  txt(g,432,672,'**','middle','sig-stars');txt(g,460,667,'**','middle','sig-stars');
})();

(function(){
  const g=document.getElementById('plotL');
  const X=sc(0,10,543,728),Y=sc(0,0.6,730,607);
  lX.forEach((x,i)=>mk(g,'circle',{cx:X(x),cy:Y(lY[i]),r:2.3,fill:'#111'},'scatter-point'));
  mk(g,'path',{d:pathOf(lFitX,lFitY,X,Y),stroke:'#c03030','stroke-width':1.1,fill:'none'},'fit-line');
  mk(g,'line',{x1:543,x2:543,y1:607,y2:730,stroke:'#333','stroke-width':1.2},'y-axis');
  mk(g,'line',{x1:543,x2:729,y1:730,y2:730,stroke:'#333','stroke-width':1.2},'x-axis');
  ticksLy.forEach(v=>{mk(g,'line',{x1:540,x2:543,y1:Y(v),y2:Y(v),stroke:'#333'},'y-tick');txt(g,537,Y(v)+3.5,String(v),'end','y-tick-label',{'font-size':9.5});});
  ticksLx.forEach(v=>{mk(g,'line',{x1:X(v),x2:X(v),y1:730,y2:733,stroke:'#333'},'x-tick');txt(g,X(v),745,String(v),'middle','x-tick-label',{'font-size':9.5});});
})();
</script>
</body></html>
